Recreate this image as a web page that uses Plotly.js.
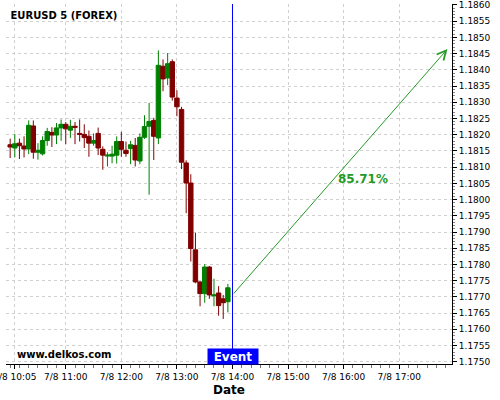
<!DOCTYPE html>
<html>
<head>
<meta charset="utf-8">
<script src="https://cdn.plot.ly/plotly-3.0.1.min.js"></script>
<style>
  html, body { margin: 0; padding: 0; background: #fff; }
  #chart { width: 500px; height: 400px; }
</style>
</head>
<body>
<div id="chart"></div>
<script>
// EURUSD 5-minute bars, 7/8
const times = [
  '2025-07-08 10:00', '2025-07-08 10:05', '2025-07-08 10:10', '2025-07-08 10:15',
  '2025-07-08 10:20', '2025-07-08 10:25', '2025-07-08 10:30', '2025-07-08 10:35',
  '2025-07-08 10:40', '2025-07-08 10:45', '2025-07-08 10:50', '2025-07-08 10:55',
  '2025-07-08 11:00', '2025-07-08 11:05', '2025-07-08 11:10', '2025-07-08 11:15',
  '2025-07-08 11:20', '2025-07-08 11:25', '2025-07-08 11:30', '2025-07-08 11:35',
  '2025-07-08 11:40', '2025-07-08 11:45', '2025-07-08 11:50', '2025-07-08 11:55',
  '2025-07-08 12:00', '2025-07-08 12:05', '2025-07-08 12:10', '2025-07-08 12:15',
  '2025-07-08 12:20', '2025-07-08 12:25', '2025-07-08 12:30', '2025-07-08 12:35',
  '2025-07-08 12:40', '2025-07-08 12:45', '2025-07-08 12:50', '2025-07-08 12:55',
  '2025-07-08 13:00', '2025-07-08 13:05', '2025-07-08 13:10', '2025-07-08 13:15',
  '2025-07-08 13:20', '2025-07-08 13:25', '2025-07-08 13:30', '2025-07-08 13:35',
  '2025-07-08 13:40', '2025-07-08 13:45', '2025-07-08 13:50', '2025-07-08 13:55'
];

const openPrices = [
  1.18169, 1.18159, 1.18174, 1.18165, 1.18156, 1.18227, 1.18146, 1.18141,
  1.18182, 1.18207, 1.18199, 1.18221, 1.18232, 1.18214, 1.18226, 1.18204,
  1.18201, 1.18195, 1.18174, 1.18204, 1.18155, 1.18134, 1.18134, 1.18137,
  1.18179, 1.18152, 1.18157, 1.18167, 1.18119, 1.18192, 1.18226, 1.18244,
  1.18190, 1.18411, 1.18375, 1.18425, 1.18313, 1.18278, 1.18113, 1.18051,
  1.17845, 1.17746, 1.17710, 1.17792, 1.17703, 1.17712, 1.17694, 1.17685
];
const highPrices = [
  1.18188, 1.18202, 1.18188, 1.18195, 1.18244, 1.18244, 1.18174, 1.18195,
  1.18221, 1.18223, 1.18236, 1.18247, 1.18239, 1.18246, 1.18239, 1.18247,
  1.18232, 1.18213, 1.18204, 1.18222, 1.18164, 1.18146, 1.18166, 1.18195,
  1.18209, 1.18179, 1.18181, 1.18190, 1.18204, 1.18260, 1.18298, 1.18252,
  1.18460, 1.18432, 1.18452, 1.18432, 1.18337, 1.18286, 1.18121, 1.18078,
  1.17898, 1.17748, 1.17801, 1.17795, 1.17756, 1.17733, 1.17706, 1.17740
];
const lowPrices = [
  1.18128, 1.18130, 1.18125, 1.18130, 1.18140, 1.18126, 1.18123, 1.18136,
  1.18166, 1.18162, 1.18171, 1.18181, 1.18171, 1.18190, 1.18171, 1.18179,
  1.18159, 1.18132, 1.18166, 1.18137, 1.18092, 1.18102, 1.18112, 1.18111,
  1.18132, 1.18132, 1.18109, 1.18102, 1.18109, 1.18187, 1.18015, 1.18122,
  1.18171, 1.18334, 1.18353, 1.18305, 1.18257, 1.18094, 1.17958, 1.17809,
  1.17742, 1.17671, 1.17682, 1.17694, 1.17671, 1.17642, 1.17632, 1.17652
];
const closePrices = [
  1.18162, 1.18172, 1.18166, 1.18156, 1.18229, 1.18146, 1.18152, 1.18182,
  1.18210, 1.18199, 1.18221, 1.18232, 1.18218, 1.18226, 1.18223, 1.18201,
  1.18191, 1.18174, 1.18182, 1.18159, 1.18137, 1.18137, 1.18140, 1.18179,
  1.18155, 1.18142, 1.18169, 1.18122, 1.18192, 1.18225, 1.18241, 1.18195,
  1.18414, 1.18372, 1.18419, 1.18316, 1.18286, 1.18115, 1.18051, 1.17849,
  1.17746, 1.17710, 1.17792, 1.17706, 1.17706, 1.17673, 1.17682, 1.17728
];

// axis labels
const xTickVals = [
  '2025-07-08 10:05', '2025-07-08 11:00', '2025-07-08 12:00', '2025-07-08 13:00',
  '2025-07-08 14:00', '2025-07-08 15:00', '2025-07-08 16:00', '2025-07-08 17:00'
];
const xTickText = [
  '7/8 10:05', '7/8 11:00', '7/8 12:00', '7/8 13:00',
  '7/8 14:00', '7/8 15:00', '7/8 16:00', '7/8 17:00'
];

// event marker and projected move
const eventTime = '2025-07-08 14:00';
const projStart = ['2025-07-08 14:00', 1.17706];
const projEnd = ['2025-07-08 17:52', 1.18464];
const projLabel = '85.71%';
const projLabelPos = ['2025-07-08 16:21', 1.18063];

const UP = '#008000';
const DOWN = '#800000';
const PROJ = '#249a24';
const GRID = '#d0d0d0';

const candles = {
  type: 'candlestick',
  x: times,
  open: openPrices,
  high: highPrices,
  low: lowPrices,
  close: closePrices,
  increasing: { line: { color: UP, width: 1 }, fillcolor: UP },
  decreasing: { line: { color: DOWN, width: 1 }, fillcolor: DOWN },
  whiskerwidth: 0,
  hoverinfo: 'none',
  showlegend: false
};

const layout = {
  width: 500,
  height: 400,
  margin: { l: 6, r: 48, t: 4, b: 36 },
  paper_bgcolor: '#ffffff',
  plot_bgcolor: '#ffffff',
  font: { family: 'DejaVu Sans, sans-serif', size: 9, color: '#000' },
  showlegend: false,
  boxgap: 0.05,
  boxgroupgap: 0,
  title: {
    text: 'EURUSD 5 (FOREX)',
    font: { family: 'DejaVu Sans, sans-serif', size: 10, weight: 'bold', color: '#000' },
    xref: 'container', yref: 'container',
    x: 10.5 / 500, xanchor: 'left',
    y: 1 - 15 / 400, yanchor: 'middle'
  },
  xaxis: {
    type: 'date',
    range: ['2025-07-08 09:55:30', '2025-07-08 17:56:57'],
    rangeslider: { visible: false },
    tickmode: 'array',
    tickvals: xTickVals,
    ticktext: xTickText,
    ticklabeloverflow: 'allow',
    ticks: 'outside',
    ticklen: 4,
    tickcolor: '#000',
    showline: true,
    linecolor: '#000',
    linewidth: 1,
    showgrid: true,
    gridcolor: GRID,
    griddash: '3px,3px',
    zeroline: false,
    minor: {
      tickmode: 'linear',
      tick0: '2025-07-08 10:00',
      dtick: 600000,
      ticks: 'outside',
      ticklen: 3,
      tickcolor: '#777',
      showgrid: false
    },
    title: {
      text: 'Date',
      font: { family: 'DejaVu Sans, sans-serif', size: 12, weight: 'bold', color: '#000' },
      standoff: 4
    },
    fixedrange: true
  },
  yaxis: {
    side: 'right',
    range: [1.17493, 1.18603],
    tickmode: 'linear',
    tick0: 1.1750,
    dtick: 0.0005,
    tickformat: '.4f',
    ticks: 'outside',
    ticklen: 4,
    tickcolor: '#000',
    showline: true,
    linecolor: '#000',
    linewidth: 1,
    showgrid: true,
    gridcolor: GRID,
    griddash: '3px,3px',
    zeroline: false,
    minor: {
      tickmode: 'linear',
      tick0: 1.1750,
      dtick: 0.0001,
      ticks: 'outside',
      ticklen: 2,
      tickcolor: '#888',
      showgrid: false
    },
    fixedrange: true
  },
  shapes: [
    {
      type: 'line',
      xref: 'x', yref: 'paper',
      x0: eventTime, x1: eventTime, y0: 0, y1: 1,
      line: { color: '#0000ff', width: 1 }
    }
  ],
  annotations: [
    {
      xref: 'x', yref: 'y', axref: 'x', ayref: 'y',
      x: projEnd[0], y: projEnd[1],
      ax: projStart[0], ay: projStart[1],
      text: '',
      showarrow: true,
      arrowhead: 5,
      arrowsize: 1.8,
      arrowwidth: 1,
      arrowcolor: PROJ
    },
    {
      xref: 'x', yref: 'y',
      x: projLabelPos[0], y: projLabelPos[1],
      text: projLabel,
      showarrow: false,
      font: { family: 'DejaVu Sans, sans-serif', size: 12, weight: 'bold', color: PROJ },
      xanchor: 'center', yanchor: 'middle'
    },
    {
      xref: 'x', yref: 'paper',
      x: eventTime, y: 8 / 360,
      text: 'Event',
      showarrow: false,
      bgcolor: '#0000ff',
      width: 50, height: 15,
      borderpad: 0,
      font: { family: 'DejaVu Sans, sans-serif', size: 12, weight: 'bold', color: '#fff' },
      xanchor: 'center', yanchor: 'middle'
    },
    {
      xref: 'paper', yref: 'paper',
      x: 9 / 446, y: 10 / 360,
      text: 'www.delkos.com',
      showarrow: false,
      font: { family: 'DejaVu Sans, sans-serif', size: 10, weight: 'bold', color: '#000' },
      xanchor: 'left', yanchor: 'middle'
    }
  ]
};

Plotly.newPlot('chart', [candles], layout, { staticPlot: true, displayModeBar: false });
</script>
</body>
</html>
